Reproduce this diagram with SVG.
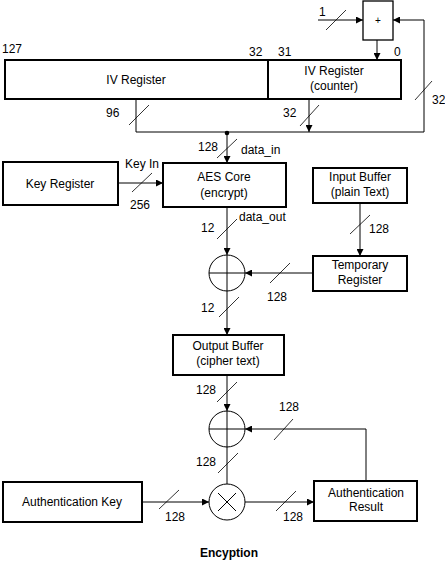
<svg xmlns="http://www.w3.org/2000/svg" width="445" height="561" viewBox="0 0 445 561">
<defs>
<marker id="ah" viewBox="0 0 8 8" refX="8" refY="4" markerWidth="7" markerHeight="7" markerUnits="userSpaceOnUse" orient="auto">
<path d="M0,0 L8,4 L0,8 z" fill="#000"/>
</marker>
<style>
.box{fill:#fff;stroke:#000;stroke-width:2}
.thin{fill:#fff;stroke:#000;stroke-width:1.3}
.ln{fill:none;stroke:#000;stroke-width:1}
.arr{fill:none;stroke:#000;stroke-width:1;marker-end:url(#ah)}
.sl{fill:none;stroke:#000;stroke-width:0.8}
text{font-family:"Liberation Sans",Arial,sans-serif;font-size:12px;fill:#000}
.c{text-anchor:middle}
</style>
</defs>
<rect width="445" height="561" fill="#fff"/>

<g id="connectors">
<line class="arr" x1="318" y1="20" x2="363" y2="20"/>
<line class="sl" x1="326" y1="30" x2="346" y2="10"/>
<polyline class="arr" points="136,99 136,132 424,132 424,20 393,20"/>
<line class="sl" x1="415" y1="100" x2="432" y2="81"/>
<line class="arr" x1="377" y1="40" x2="377" y2="60"/>
<line class="arr" x1="309" y1="99" x2="309" y2="132"/>
<line class="sl" x1="300" y1="126" x2="319" y2="105"/>
<line class="sl" x1="129" y1="125" x2="149" y2="105"/>
<circle cx="227" cy="133" r="2.3" fill="#000"/>
<line class="arr" x1="227" y1="133" x2="227" y2="163"/>
<line class="sl" x1="217" y1="158" x2="237" y2="139"/>
<line class="arr" x1="118" y1="183" x2="163" y2="183"/>
<line class="sl" x1="132" y1="192" x2="152" y2="173"/>
<line class="arr" x1="227" y1="207" x2="227" y2="255"/>
<line class="sl" x1="217" y1="239" x2="237" y2="219"/>
<line class="arr" x1="360" y1="203" x2="360" y2="256"/>
<line class="sl" x1="350" y1="234" x2="370" y2="215"/>
<line class="arr" x1="313" y1="273" x2="245" y2="273"/>
<line class="sl" x1="270" y1="283" x2="290" y2="263"/>
<line class="arr" x1="227" y1="291" x2="227" y2="335"/>
<line class="sl" x1="219" y1="317" x2="239" y2="297"/>
<line class="arr" x1="227" y1="375" x2="227" y2="411"/>
<line class="sl" x1="217" y1="402" x2="237" y2="382"/>
<polyline class="arr" points="366,481 366,429 245,429"/>
<line class="sl" x1="274" y1="440" x2="293" y2="419"/>
<line class="ln" x1="227" y1="447" x2="227" y2="484"/>
<line class="sl" x1="218" y1="473" x2="238" y2="453"/>
<line class="arr" x1="142" y1="502" x2="209" y2="502"/>
<line class="sl" x1="159" y1="509" x2="179" y2="490"/>
<line class="arr" x1="245" y1="502" x2="314" y2="502"/>
<line class="sl" x1="276" y1="511" x2="296" y2="491"/>
</g>

<g id="labels">
<text x="319" y="16">1</text>
<text x="432" y="104">32</text>
<text x="2" y="53">127</text>
<text x="249" y="56">32</text>
<text x="278" y="56">31</text>
<text x="394" y="56">0</text>
<text x="106" y="117">96</text>
<text x="283" y="117">32</text>
<text x="198" y="151">128</text>
<text x="241" y="154">data_in</text>
<text x="125" y="168">Key In</text>
<text x="130" y="209">256</text>
<text x="201" y="232">12</text>
<text x="239" y="221">data_out</text>
<text x="369" y="233">128</text>
<text x="267" y="301">128</text>
<text x="201" y="312">12</text>
<text x="196" y="394">128</text>
<text x="279" y="411">128</text>
<text x="196" y="466">128</text>
<text x="165" y="521">128</text>
<text x="283" y="521">128</text>
</g>

<g id="adder">
<rect class="thin" x="363" y="1" width="30" height="39"/>
<text class="c" x="378" y="24" style="font-size:10px">+</text>
</g>

<g id="iv-register">
<rect class="box" x="5" y="60" width="263" height="39"/>
<text class="c" x="136" y="84">IV Register</text>
</g>

<g id="iv-counter">
<rect class="box" x="268" y="60" width="133" height="39"/>
<text class="c" x="334" y="75">IV Register</text>
<text class="c" x="334" y="90">(counter)</text>
</g>

<g id="key-register">
<rect class="box" x="3" y="162" width="115" height="43"/>
<text class="c" x="60" y="188">Key Register</text>
</g>

<g id="aes-core">
<rect class="box" x="163" y="163" width="123" height="44"/>
<text class="c" x="224" y="181">AES Core</text>
<text class="c" x="224" y="197">(encrypt)</text>
</g>

<g id="input-buffer">
<rect class="box" x="313" y="168" width="94" height="35"/>
<text class="c" x="360" y="181">Input Buffer</text>
<text class="c" x="360" y="196">(plain Text)</text>
</g>

<g id="temporary-register">
<rect class="box" x="313" y="256" width="94" height="35"/>
<text class="c" x="360" y="269">Temporary</text>
<text class="c" x="360" y="284">Register</text>
</g>

<g id="xor1">
<circle cx="227" cy="273" r="18" fill="none" stroke="#000" stroke-width="1"/>
<line class="ln" x1="209" y1="273" x2="245" y2="273"/>
<line class="ln" x1="227" y1="255" x2="227" y2="291"/>
</g>

<g id="output-buffer">
<rect class="box" x="173" y="335" width="111" height="40"/>
<text class="c" x="228" y="350">Output Buffer</text>
<text class="c" x="228" y="365">(cipher text)</text>
</g>

<g id="xor2">
<circle cx="227" cy="429" r="18" fill="none" stroke="#000" stroke-width="1"/>
<line class="ln" x1="209" y1="429" x2="245" y2="429"/>
<line class="ln" x1="227" y1="411" x2="227" y2="447"/>
</g>

<g id="mult">
<circle cx="227" cy="502" r="18" fill="#fff" stroke="#000" stroke-width="1"/>
<line class="ln" x1="218" y1="493" x2="236" y2="511"/>
<line class="ln" x1="236" y1="493" x2="218" y2="511"/>
</g>

<g id="authentication-key">
<rect class="box" x="3" y="482" width="139" height="40"/>
<text class="c" x="72" y="506">Authentication Key</text>
</g>

<g id="authentication-result">
<rect class="box" x="314" y="481" width="103" height="40"/>
<text class="c" x="366" y="497">Authentication</text>
<text class="c" x="366" y="511">Result</text>
</g>

<text class="c" x="229" y="557" style="font-weight:bold">Encyption</text>
</svg>
